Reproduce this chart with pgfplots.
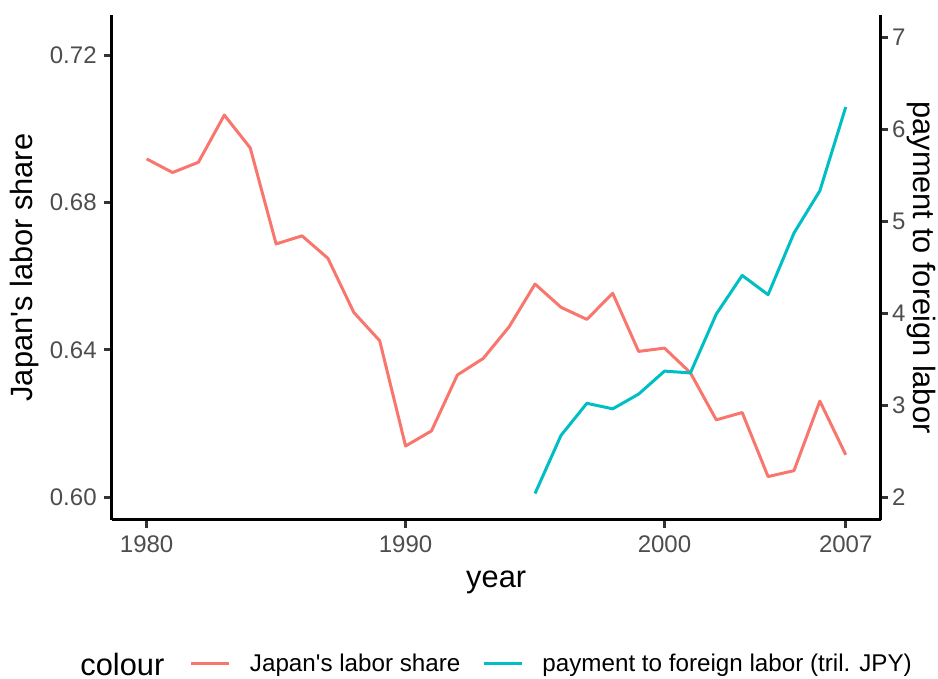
\documentclass[border=0pt]{standalone}
\usepackage{fontspec}
\setmainfont{Liberation Sans}
\usepackage{pgfplots}
\usepackage{pgfplotstable}
\pgfplotsset{compat=1.18}
\definecolor{cred}{HTML}{F8766D}
\definecolor{ccyan}{HTML}{00BFC4}
\definecolor{gtext}{HTML}{4D4D4D}
\definecolor{gticks}{HTML}{333333}

\pgfplotstableread{
year share
1980 0.6919
1981 0.6882
1982 0.6910
1983 0.7038
1984 0.6949
1985 0.6688
1986 0.6710
1987 0.6649
1988 0.6502
1989 0.6425
1990 0.6139
1991 0.6180
1992 0.6332
1993 0.6377
1994 0.6463
1995 0.6579
1996 0.6516
1997 0.6483
1998 0.6554
1999 0.6396
2000 0.6405
2001 0.6338
2002 0.6210
2003 0.6230
2004 0.6056
2005 0.6072
2006 0.6261
2007 0.6115
}\sharetable

\pgfplotstableread{
year pay
1995 2.04
1996 2.67
1997 3.02
1998 2.96
1999 3.12
2000 3.37
2001 3.35
2002 3.99
2003 4.41
2004 4.20
2005 4.87
2006 5.33
2007 6.24
}\paytable

\pgfplotsset{
  common/.style={
    scale only axis, width=384.5pt, height=252.5pt,
    xmin=1978.65, xmax=2008.35,
    axis line style={black, line width=1.5pt},
    tick style={gticks, line width=1.5pt},
    major tick length=3.85pt,
    tick align=outside,
    xticklabel shift=3.8pt, yticklabel shift=3.5pt,
    /pgf/number format/assume math mode=true,
    ticklabel style={font=\fontsize{12}{14}\selectfont, text=gtext, inner sep=0pt},
    label style={font=\fontsize{15.4}{17}\selectfont, inner sep=0pt},
  }
}

\begin{document}
\begin{tikzpicture}
\useasboundingbox (-55.85pt,-79.5pt) rectangle (413.15pt,260pt);
\begin{axis}[common,
  axis x line*=bottom, axis y line*=left,
  xtick={1980,1990,2000,2007}, xticklabels={1980,1990,2000,2007},
  ytick={0.60,0.64,0.68,0.72}, yticklabels={0.60,0.64,0.68,0.72},
  ymin=0.5938, ymax=0.7310,
  xlabel={year}, ylabel={Japan\textquotesingle s labor share},
  xlabel style={at={(axis description cs:0.5,-0.1227)}, anchor=center},
  ylabel style={at={(axis description cs:-0.1135,0.5)}, anchor=center},
]
\addplot[cred, line width=1.5pt, line join=round] table[x=year, y=share] {\sharetable};
\end{axis}
\begin{axis}[common,
  axis x line=none, axis y line*=right,
  xtick=\empty, yticklabel shift=1.6pt,
  ymin=1.752, ymax=7.24, ytick={2,3,4,5,6,7}, yticklabels={2,3,4,5,6,7},
  ylabel={payment to foreign labor},
  ylabel style={at={(axis description cs:1.0528,0.5)}, anchor=center, rotate=180},
  legend style={at={(axis description cs:0.1018,-0.2851)}, anchor=west,
    draw=none, fill=none, inner sep=0pt, outer sep=0pt,
    font=\fontsize{12.1}{14}\selectfont,
    nodes={inner sep=0pt},
    /tikz/every odd column/.style={column sep=9.5pt},
    /tikz/every even column/.style={column sep=11pt}},
  legend columns=-1,
  legend image code/.code={\draw[#1] (0pt,0pt) -- (19pt,0pt);},
]
\addlegendimage{cred, line width=1.5pt}
\addlegendentry{Japan\textquotesingle s labor share}
\addplot[ccyan, line width=1.5pt, line join=round] table[x=year, y=pay] {\paytable};
\addlegendentry{payment to foreign labor (tril. JPY)}
\end{axis}
\node[anchor=west, inner sep=0pt, font=\fontsize{15.4}{17}\selectfont] at (-15.85pt,-72pt) {colour};
\end{tikzpicture}
\end{document}
